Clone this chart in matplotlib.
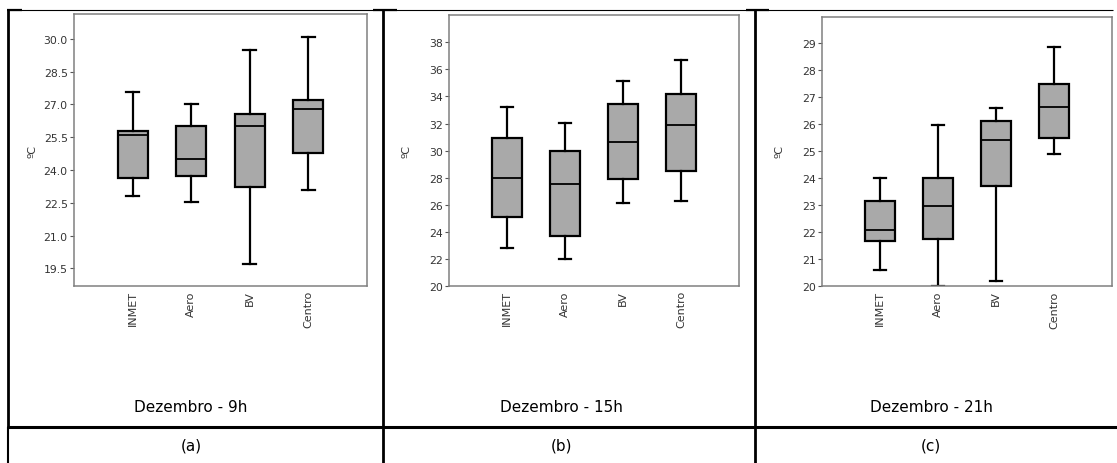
import matplotlib
matplotlib.use("Agg")
import matplotlib.pyplot as plt
from matplotlib.lines import Line2D

W, H = 1117, 464
plt.rcParams['font.family'] = ['DejaVu Sans']

stations = ["INMET", "Aero", "BV", "Centro"]

# Dezembro - 9h
a_whislo = [22.8, 22.52, 19.70, 23.1]
a_q1     = [23.65, 23.74, 23.21, 24.78]
a_med    = [25.6, 24.49, 26.0, 26.79]
a_q3     = [25.79, 26.0, 26.57, 27.22]
a_whishi = [27.56, 27.0, 29.47, 30.08]

# Dezembro - 15h
b_whislo = [22.8, 22.01, 26.12, 26.31]
b_q1     = [25.09, 23.73, 27.94, 28.5]
b_med    = [28.01, 27.52, 30.66, 31.92]
b_q3     = [30.91, 30.0, 33.47, 34.16]
b_whishi = [33.2, 32.02, 35.14, 36.71]

# Dezembro - 21h
c_whislo = [20.6, 20.0, 20.2, 24.89]
c_q1     = [21.68, 21.75, 23.71, 25.48]
c_med    = [22.1, 22.99, 25.43, 26.63]
c_q3     = [23.16, 24.0, 26.12, 27.5]
c_whishi = [24.0, 25.97, 26.59, 28.87]

a_ticks = [19.5, 21.0, 22.5, 24.0, 25.5, 27.0, 28.5, 30.0]
b_ticks = [20, 22, 24, 26, 28, 30, 32, 34, 36, 38]
c_ticks = [20, 21, 22, 23, 24, 25, 26, 27, 28, 29]

captions = ["Dezembro - 9h", "Dezembro - 15h", "Dezembro - 21h"]
letters = ["(a)", "(b)", "(c)"]

fig = plt.figure(figsize=(W / 100, H / 100), dpi=100)

def px_axes(l, r, t, b):
    return fig.add_axes([l / W, (H - b) / H, (r - l) / W, (b - t) / H])

panels = [
    (px_axes(74, 367, 15, 287), a_whislo, a_q1, a_med, a_q3, a_whishi, a_ticks, (18.69, 31.14), "%.1f", 32),
    (px_axes(449, 739, 15.7, 287), b_whislo, b_q1, b_med, b_q3, b_whishi, b_ticks, (20, 40.04), "%d", 406),
    (px_axes(822, 1112, 17.7, 287.3), c_whislo, c_q1, c_med, c_q3, c_whishi, c_ticks, (20, 29.99), "%d", 780),
]

for ax, wl, q1, md, q3, wh, ticks, ylim, fmt, ylab_x in panels:
    stats = []
    for i, name in enumerate(stations):
        stats.append(dict(label=name, whislo=wl[i], q1=q1[i], med=md[i], q3=q3[i], whishi=wh[i], fliers=[]))
    ax.bxp(stats, positions=[1, 2, 3, 4], widths=0.51, patch_artist=True, showfliers=False,
           boxprops=dict(facecolor="#a9a9a9", edgecolor="black", linewidth=1.6),
           medianprops=dict(color="black", linewidth=1.3),
           whiskerprops=dict(color="black", linewidth=1.6),
           capprops=dict(color="black", linewidth=1.6),
           capwidths=0.22)
    ax.set_xlim(0, 5)
    ax.set_ylim(*ylim)
    ax.set_yticks(ticks)
    ax.set_yticklabels([fmt % t for t in ticks])
    ax.set_xticks([1, 2, 3, 4])
    ax.set_xticklabels(stations, rotation=90, fontsize=8, color="#333333")
    ax.tick_params(axis='x', length=0, pad=3)
    ax.tick_params(axis='y', length=3, width=0.8, color="#555555", labelsize=7.8, labelcolor="#333333", pad=1.5)
    for s in ax.spines.values():
        s.set_color("#808080")
        s.set_linewidth(1.1)
    ax.set_facecolor("white")
    ax.text(ylab_x / W, 1 - 152 / H, "ºC", transform=fig.transFigure, rotation=90,
            ha="center", va="center", fontsize=8, color="#333333")

# table layout
def hline(y, x0, x1, lw):
    fig.add_artist(Line2D([x0 / W, x1 / W], [1 - y / H, 1 - y / H], transform=fig.transFigure,
                          color="black", linewidth=lw, solid_capstyle="butt"))

def vline(x, y0, y1, lw):
    fig.add_artist(Line2D([x / W, x / W], [1 - y0 / H, 1 - y1 / H], transform=fig.transFigure,
                          color="black", linewidth=lw, solid_capstyle="butt"))

hline(10.8, 7, 1113, 0.8)
hline(11, 7, 22, 1.6)
hline(11, 373, 397, 1.6)
hline(11, 746, 769, 1.6)
hline(428, 7, 1117, 2.2)
vline(7.8, 10, 428, 2.0)
vline(7.8, 428, 464, 1.5)
vline(383, 10, 464, 2.0)
vline(754.5, 10, 464, 2.0)

centers = [191, 561, 931]
for cx, cap, let in zip(centers, captions, letters):
    fig.text(cx / W, 1 - 408 / H, cap, ha="center", va="center", fontsize=11, color="black")
    fig.text(cx / W, 1 - 446 / H, let, ha="center", va="center", fontsize=11, color="black")

fig.savefig("out.png", dpi=100, facecolor="white")
